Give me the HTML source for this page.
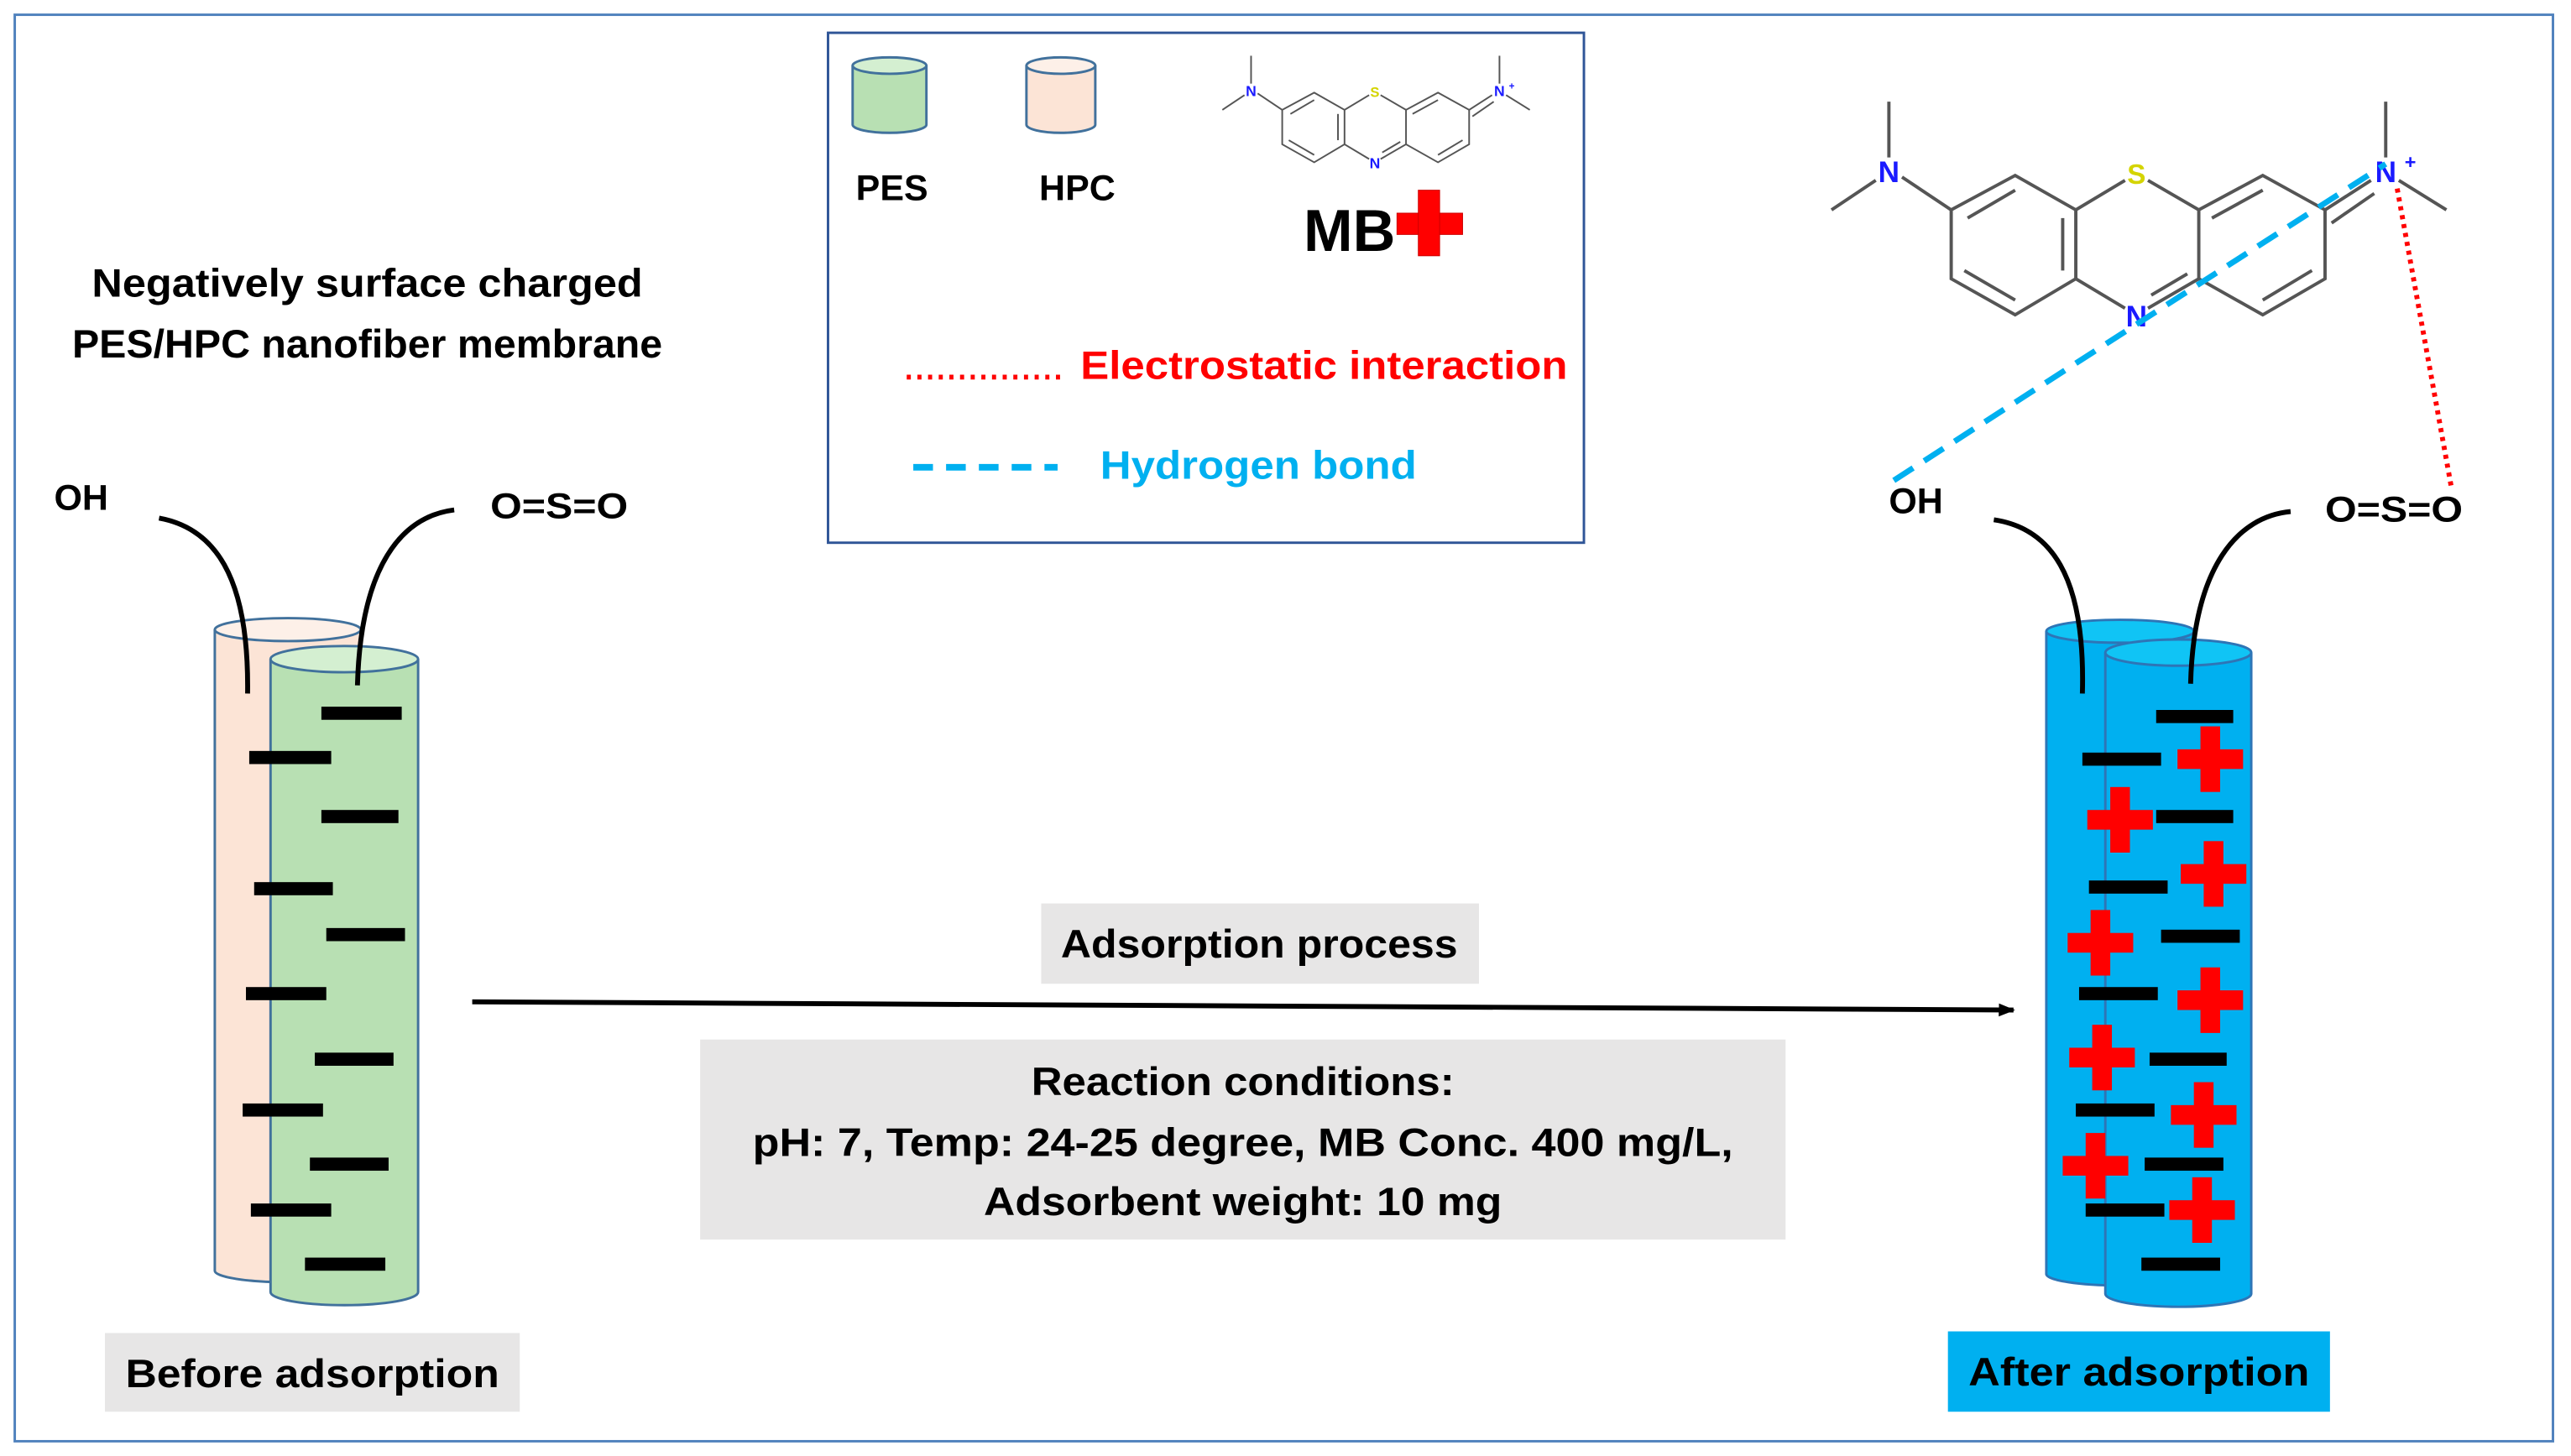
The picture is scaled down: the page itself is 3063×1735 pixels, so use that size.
<!DOCTYPE html>
<html><head><meta charset="utf-8"><style>
html,body{margin:0;padding:0;background:#fff;}
svg{display:block;}
text{font-family:"Liberation Sans",sans-serif;font-weight:bold;}
</style></head><body>
<svg width="3063" height="1735" viewBox="0 0 1568 888" preserveAspectRatio="none" xmlns="http://www.w3.org/2000/svg">
<defs>
<marker id="ah" markerWidth="10" markerHeight="8" refX="9" refY="4" orient="auto" markerUnits="userSpaceOnUse"><path d="M0,0 L10,4 L0,8 Z" fill="#000"/></marker>
<g id="mol">
 <g stroke="#555" stroke-width="2" fill="none">
  <line x1="1152" y1="62" x2="1152" y2="96"/>
  <line x1="1117" y1="128" x2="1144" y2="110"/>
  <line x1="1160" y1="108" x2="1190" y2="128"/>
  <polygon points="1229,107 1266,128 1266,170 1229,192 1190,170 1190,128"/>
  <line x1="1198" y1="165" x2="1229" y2="183"/>
  <line x1="1200" y1="133" x2="1229" y2="116"/>
  <line x1="1258" y1="133" x2="1258" y2="165"/>
  <line x1="1266" y1="128" x2="1296" y2="110"/>
  <line x1="1310" y1="110" x2="1341" y2="128"/>
  <line x1="1266" y1="170" x2="1296" y2="188"/>
  <line x1="1310" y1="188" x2="1341" y2="170"/>
  <line x1="1312" y1="180" x2="1334" y2="167"/>
  <polygon points="1380,107 1418,128 1418,170 1380,192 1341,170 1341,128"/>
  <line x1="1349" y1="133" x2="1380" y2="116"/>
  <line x1="1380" y1="183" x2="1410" y2="165"/>
  <line x1="1418" y1="128" x2="1446" y2="110"/>
  <line x1="1422" y1="136" x2="1448" y2="118"/>
  <line x1="1455" y1="62" x2="1455" y2="96"/>
  <line x1="1463" y1="110" x2="1492" y2="128"/>
 </g>
 <text x="1152" y="111" font-size="18" fill="#1a1aff" text-anchor="middle">N</text>
 <text x="1303" y="112" font-size="17" fill="#d4d400" text-anchor="middle">S</text>
 <text x="1303" y="199" font-size="18" fill="#1a1aff" text-anchor="middle">N</text>
 <text x="1455" y="111" font-size="18" fill="#1a1aff" text-anchor="middle">N</text>
 <text x="1470" y="103" font-size="12" fill="#1a1aff" text-anchor="middle">+</text>
</g>
</defs>
<rect x="9" y="9" width="1548" height="870" fill="#fff" stroke="#4f81bd" stroke-width="1.5"/>

<!-- legend -->
<rect x="505" y="20" width="461" height="311" fill="#fff" stroke="#2f5597" stroke-width="1.5"/>
<g stroke="#41719c" stroke-width="1.5">
 <path d="M520,40 V76 A22.5,5 0 0 0 565,76 V40" fill="#b8e0b3"/>
 <ellipse cx="542.5" cy="40" rx="22.5" ry="5" fill="#d4efd1"/>
 <path d="M626,40 V76 A21,5 0 0 0 668,76 V40" fill="#fce4d6"/>
 <ellipse cx="647" cy="40" rx="21" ry="5" fill="#fdf0e8"/>
</g>
<text x="544" y="122" font-size="22" text-anchor="middle">PES</text>
<text x="657" y="122" font-size="22" text-anchor="middle">HPC</text>
<g transform="translate(187,3) scale(0.5)"><use href="#mol"/></g>
<text x="795" y="153" font-size="36" textLength="56" lengthAdjust="spacingAndGlyphs">MB</text>
<g fill="#ff0000" stroke="#c00" stroke-width="0.5"><rect x="852" y="130" width="40" height="13"/><rect x="865" y="116" width="13" height="40"/></g>
<line x1="553" y1="230" x2="648" y2="230" stroke="#ff0000" stroke-width="3" stroke-dasharray="2.5,4"/>
<text x="659" y="231" font-size="24" fill="#ff0000" textLength="297" lengthAdjust="spacingAndGlyphs">Electrostatic interaction</text>
<line x1="557" y1="285" x2="645" y2="285" stroke="#00b0f0" stroke-width="4" stroke-dasharray="12,8"/>
<text x="671" y="292" font-size="24" fill="#00b0f0" textLength="193" lengthAdjust="spacingAndGlyphs">Hydrogen bond</text>

<!-- left -->
<text x="224" y="181" font-size="24" text-anchor="middle" textLength="336" lengthAdjust="spacingAndGlyphs">Negatively surface charged</text>
<text x="224" y="218" font-size="24" text-anchor="middle" textLength="360" lengthAdjust="spacingAndGlyphs">PES/HPC nanofiber membrane</text>
<text x="33" y="311" font-size="22">OH</text>
<text x="299" y="316" font-size="22" textLength="84" lengthAdjust="spacingAndGlyphs">O=S=O</text>
<g stroke="#41719c" stroke-width="1.5">
 <path d="M131,384 V775 A44.5,7 0 0 0 220,775 V384" fill="#fce4d6"/>
 <ellipse cx="175.5" cy="384" rx="44.5" ry="7" fill="#fdf0e8"/>
 <path d="M165,402 V788 A45,8 0 0 0 255,788 V402" fill="#b8e0b3"/>
 <ellipse cx="210" cy="402" rx="45" ry="8" fill="#d4efd1"/>
</g>
<g stroke="#000" stroke-width="3" fill="none">
 <path d="M97,316 C130,322 152,350 151,423"/>
 <path d="M277,311 C245,315 220,345 218,418"/>
</g>
<g fill="#000">
 <rect x="196" y="431" width="49" height="8"/><rect x="152" y="458" width="50" height="8"/>
 <rect x="196" y="494" width="47" height="8"/><rect x="155" y="538" width="48" height="8"/>
 <rect x="199" y="566" width="48" height="8"/><rect x="150" y="602" width="49" height="8"/>
 <rect x="192" y="642" width="48" height="8"/><rect x="148" y="673" width="49" height="8"/>
 <rect x="189" y="706" width="48" height="8"/><rect x="153" y="734" width="49" height="8"/>
 <rect x="186" y="767" width="49" height="8"/>
</g>
<rect x="64" y="813" width="253" height="48" fill="#e7e6e6"/>
<text x="190.5" y="846" font-size="24" text-anchor="middle" textLength="228" lengthAdjust="spacingAndGlyphs">Before adsorption</text>

<!-- middle -->
<rect x="635" y="551" width="267" height="49" fill="#e7e6e6"/>
<text x="768" y="584" font-size="24" text-anchor="middle" textLength="242" lengthAdjust="spacingAndGlyphs">Adsorption process</text>
<line x1="288" y1="611" x2="1228" y2="616" stroke="#000" stroke-width="3" marker-end="url(#ah)"/>
<rect x="427" y="634" width="662" height="122" fill="#e7e6e6"/>
<text x="758" y="668" font-size="24" text-anchor="middle" textLength="258" lengthAdjust="spacingAndGlyphs">Reaction conditions:</text>
<text x="758" y="705" font-size="24" text-anchor="middle" textLength="598" lengthAdjust="spacingAndGlyphs">pH: 7, Temp: 24-25 degree, MB Conc. 400 mg/L,</text>
<text x="758" y="741" font-size="24" text-anchor="middle" textLength="316" lengthAdjust="spacingAndGlyphs">Adsorbent weight: 10 mg</text>

<!-- right -->
<use href="#mol"/>
<line x1="1155" y1="293" x2="1455" y2="100" stroke="#00b0f0" stroke-width="3.5" stroke-dasharray="14,8"/>
<line x1="1462" y1="115" x2="1495" y2="297" stroke="#ff0000" stroke-width="3" stroke-dasharray="2.5,3"/>
<text x="1152" y="313" font-size="22">OH</text>
<text x="1418" y="318" font-size="22" textLength="84" lengthAdjust="spacingAndGlyphs">O=S=O</text>
<g stroke="#2e75b6" stroke-width="1.5">
 <path d="M1248,385 V777 A45,7 0 0 0 1338,777 V385" fill="#00b0f0"/>
 <ellipse cx="1293" cy="385" rx="45" ry="7" fill="#10c4f5"/>
 <path d="M1284,398 V789 A44.5,8 0 0 0 1373,789 V398" fill="#00b0f0"/>
 <ellipse cx="1328.5" cy="398" rx="44.5" ry="8" fill="#10c4f5"/>
</g>
<g stroke="#000" stroke-width="3" fill="none">
 <path d="M1216,317 C1250,322 1272,350 1270,423"/>
 <path d="M1397,312 C1365,315 1338,345 1336,417"/>
</g>
<g fill="#000">
 <rect x="1315" y="433" width="47" height="8"/><rect x="1270" y="459" width="48" height="8"/>
 <rect x="1315" y="494" width="47" height="8"/><rect x="1274" y="537" width="48" height="8"/>
 <rect x="1318" y="567" width="48" height="8"/><rect x="1268" y="602" width="48" height="8"/>
 <rect x="1311" y="642" width="47" height="8"/><rect x="1266" y="673" width="48" height="8"/>
 <rect x="1308" y="706" width="48" height="8"/><rect x="1272" y="734" width="48" height="8"/>
 <rect x="1306" y="767" width="48" height="8"/>
</g>
<g fill="#ff0000">
 <rect x="1328" y="457" width="40" height="12"/><rect x="1342" y="443" width="12" height="40"/>
 <rect x="1273" y="494" width="40" height="12"/><rect x="1287" y="480" width="12" height="40"/>
 <rect x="1330" y="527" width="40" height="12"/><rect x="1344" y="513" width="12" height="40"/>
 <rect x="1261" y="569" width="40" height="12"/><rect x="1275" y="555" width="12" height="40"/>
 <rect x="1328" y="604" width="40" height="12"/><rect x="1342" y="590" width="12" height="40"/>
 <rect x="1262" y="639" width="40" height="12"/><rect x="1276" y="625" width="12" height="40"/>
 <rect x="1324" y="674" width="40" height="12"/><rect x="1338" y="660" width="12" height="40"/>
 <rect x="1258" y="705" width="40" height="12"/><rect x="1272" y="691" width="12" height="40"/>
 <rect x="1323" y="732" width="40" height="12"/><rect x="1337" y="718" width="12" height="40"/>
</g>
<rect x="1188" y="812" width="233" height="49" fill="#00b0f0"/>
<text x="1304.5" y="845" font-size="24" text-anchor="middle" textLength="208" lengthAdjust="spacingAndGlyphs">After adsorption</text>
</svg>
</body></html>
